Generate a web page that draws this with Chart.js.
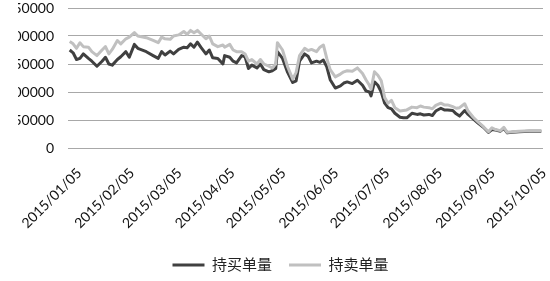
<!DOCTYPE html>
<html>
<head>
<meta charset="utf-8">
<script src="https://cdn.jsdelivr.net/npm/chart.js@4.4.0/dist/chart.umd.min.js"></script>
<style>
  html, body { margin: 0; padding: 0; background: #fff; overflow: hidden; }
  canvas { display: block; }
</style>
</head>
<body>
<canvas id="myChart" width="550" height="281"></canvas>
<script>
// dias naturales desde 2015/01/05
const days = [0, 2, 4, 6, 8, 11, 13, 16, 19, 21, 23, 25, 28, 30, 33, 35, 38, 40, 45, 49,
  52, 54, 56, 59, 61, 64, 67, 69, 71, 73, 75, 77, 80, 82, 84, 87, 90, 91, 94, 96,
  98, 101, 103, 105, 107, 110, 112, 114, 117, 119, 121, 122, 125, 128, 131, 133, 135, 138, 140, 142,
  145, 147, 149, 151, 153, 156, 159, 161, 163, 166, 169, 172, 174, 176, 177, 179, 181, 183, 185, 187,
  189, 191, 194, 196, 198, 201, 204, 206, 208, 211, 213, 215, 218, 220, 222, 225, 227, 229, 232, 234,
  237, 240, 243, 246, 248, 250, 253, 255, 257, 260, 264, 270, 277];

const buyVolume = [175000, 170000, 158000, 160000, 168000, 160000, 155000, 146000, 155000, 162000,
  150000, 148000, 158000, 163000, 172000, 162000, 185000, 178000, 172000, 165000,
  160000, 172000, 166000, 173000, 168000, 176000, 180000, 179000, 186000, 180000,
  189000, 180000, 168000, 175000, 161000, 160000, 150000, 165000, 162000, 155000,
  152000, 165000, 163000, 142000, 148000, 143000, 150000, 140000, 136000, 138000,
  142000, 172000, 160000, 135000, 117000, 120000, 155000, 168000, 164000, 152000,
  155000, 153000, 157000, 145000, 122000, 107000, 111000, 116000, 118000, 115000,
  121000, 112000, 102000, 100000, 93000, 118000, 112000, 100000, 80000, 72000,
  70000, 62000, 55000, 54000, 54000, 62000, 60000, 61000, 59000, 60000,
  58000, 66000, 71000, 68000, 68000, 67000, 61000, 57000, 67000, 60000,
  52000, 44000, 37000, 28000, 33000, 32000, 30000, 35000, 27000, 28000,
  29000, 30000, 30000];

const sellVolume = [190000, 186000, 178000, 188000, 181000, 180000, 172000, 165000, 175000, 181000,
  168000, 176000, 192000, 186000, 195000, 198000, 206000, 200000, 197000, 192000,
  188000, 198000, 195000, 194000, 200000, 202000, 208000, 203000, 210000, 206000,
  210000, 204000, 195000, 200000, 186000, 181000, 184000, 180000, 185000, 175000,
  172000, 172000, 168000, 155000, 158000, 150000, 158000, 150000, 146000, 143000,
  150000, 188000, 175000, 145000, 123000, 135000, 165000, 178000, 174000, 176000,
  172000, 180000, 184000, 160000, 140000, 127000, 132000, 136000, 138000, 137000,
  143000, 133000, 122000, 112000, 105000, 136000, 130000, 120000, 90000, 80000,
  85000, 72000, 66000, 67000, 68000, 73000, 72000, 75000, 73000, 72000,
  70000, 76000, 80000, 77000, 77000, 74000, 71000, 72000, 79000, 66000,
  55000, 46000, 38000, 29000, 36000, 33000, 31000, 37000, 28000, 29000,
  30000, 31000, 31000];

const seriesNames = ['持买单量', '持卖单量'];
const tickLabels = ['2015/01/05', '2015/02/05', '2015/03/05', '2015/04/05', '2015/05/05',
  '2015/06/05', '2015/07/05', '2015/08/05', '2015/09/05', '2015/10/05'];

function dayOffset(label) {
    const [y, m, d] = label.split('/').map(Number);
    return (Date.UTC(y, m - 1, d) - Date.UTC(2015, 0, 5)) / 86400000;
}
const tickDays = tickLabels.map(dayOffset);

const fontFamily = "Lato, 'Noto Sans CJK SC', sans-serif";

const ctx = document.getElementById('myChart');

const grafica = new Chart(ctx, {
    type: 'line',
    data: {
        datasets: [{
            label: seriesNames[0],
            data: days.map((d, i) => ({ x: d, y: buyVolume[i] })),
            borderColor: '#404040',
            backgroundColor: '#404040',
            borderWidth: 3,
            order: 1
        }, {
            label: seriesNames[1],
            data: days.map((d, i) => ({ x: d, y: sellVolume[i] })),
            borderColor: '#c0c0c0',
            backgroundColor: '#c0c0c0',
            borderWidth: 3,
            order: 0 // se dibuja encima, como en el original
        }]
    },
    options: {
        responsive: false,
        animation: false,
        layout: { padding: { left: 18, right: 7, top: 8, bottom: 4.5 } },
        elements: {
            point: { radius: 0 },
            line: { tension: 0, borderJoinStyle: 'round' }
        },
        plugins: {
            tooltip: { enabled: false },
            legend: {
                position: 'bottom',
                maxHeight: 36,
                labels: {
                    boxWidth: 32,
                    boxHeight: 3,
                    padding: 17,
                    color: '#222',
                    font: { family: fontFamily, size: 15 },
                    generateLabels: (chart) => Chart.defaults.plugins.legend.labels.generateLabels(chart)
                        .map(l => ({ ...l, lineWidth: 0, fillStyle: l.strokeStyle })),
                    sort: (a, b) => a.datasetIndex - b.datasetIndex
                }
            }
        },
        scales: {
            x: {
                type: 'linear',
                min: -1,
                max: 278,
                afterBuildTicks: (scale) => {
                    scale.ticks = tickDays.map(v => ({ value: v }));
                },
                afterFit: (scale) => {
                    scale.height = 92.5;
                    scale.paddingLeft = 0;
                    scale.paddingRight = 0;
                },
                grid: { display: false, drawTicks: false },
                border: { display: false },
                ticks: {
                    autoSkip: false,
                    minRotation: 45,
                    maxRotation: 45,
                    padding: 17,
                    labelOffset: 9.5,
                    color: '#111',
                    font: { family: fontFamily, size: 14 },
                    callback: (value) => tickLabels[tickDays.indexOf(value)]
                }
            },
            y: {
                min: 0,
                max: 250000,
                afterFit: (scale) => {
                    scale.width = 50;
                    scale.paddingTop = 0;
                    scale.paddingBottom = 0;
                },
                grid: { color: '#a8a8a8', drawTicks: false },
                border: { display: false },
                ticks: {
                    stepSize: 50000,
                    padding: 14,
                    color: '#111',
                    font: { family: fontFamily, size: 14 },
                    callback: (value) => String(value)
                }
            }
        }
    }
});
</script>
</body>
</html>
